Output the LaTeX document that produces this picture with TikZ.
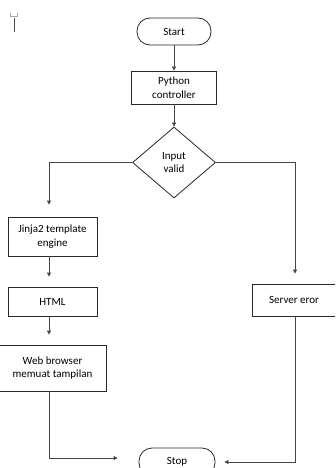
\documentclass[tikz,border=0pt]{standalone}
\usepackage{fontspec}
\setmainfont{Carlito}
\usepackage{tikz}
\usetikzlibrary{shapes.geometric, arrows.meta, positioning, calc}
\usepackage{xcolor}
\definecolor{lineGray}{RGB}{70,70,70}
\definecolor{boxDark}{RGB}{40,40,40}

\begin{document}
\begin{tikzpicture}[x=1pt, y=-1pt,
  box/.style={rectangle, draw=boxDark, line width=0.8pt, inner sep=0pt,
              align=center, minimum width=#1, font=\fontsize{11}{13.5}\selectfont},
  box/.default=89pt,
  term/.style={box=#1, rounded corners=13pt, minimum height=27pt},
  term/.default=74pt,
  decide/.style={diamond, draw=boxDark, line width=0.8pt, inner sep=0pt,
                 align=center, minimum width=83pt, minimum height=71pt,
                 font=\fontsize{11}{13.5}\selectfont},
  arr/.style={-{Triangle[length=4pt, width=4pt]}, line width=0.8pt,
              lineGray, shorten >=#1},
  arr/.default=10pt
]
  \useasboundingbox (0,0) rectangle (335,468);
  \clip (0,0) rectangle (335,468);

  % cursor mark
  \draw[gray!70, line width=0.6pt] (10,13) -- (10,16) -- (17,16) -- (17,13);
  \draw[black!70, line width=0.8pt] (14,18) -- (14,32);

  \node[term]                           (start) at (174,31.5) {Start};
  \node[box=85pt, minimum height=33pt]  (py)    at (174,87.5) {Python\\controller};
  \node[decide]                         (valid) at (174,162.5) {Input\\valid};
  \node[box, minimum height=39pt]       (jinja) at (52.5,236.5) {Jinja2 template\\engine};
  \node[box, minimum height=29pt]       (html)  at (52.5,301.5) {HTML};
  \node[box=107pt, minimum height=46pt] (web)   at (52.5,368) {Web browser\\memuat tampilan};
  \node[box=84pt, minimum height=32pt]  (err)   at (294,300) {Server eror};
  \node[term=76pt, minimum height=28pt] (stop)  at (177,462) {Stop};

  \coordinate (lcol) at (49,0);
  \coordinate (rcol) at (295,0);

  \draw[arr=0pt] (start.south) -- (py.north);
  \draw[arr=0pt] (py.south) -- (valid.north);
  \draw[arr=12pt] (valid.west) -| (jinja.north -| lcol);
  \draw[arr] (valid.east) -| (err.north -| rcol);
  \foreach \a/\b in {jinja/html, html/web}
    \draw[arr] (\a.south -| lcol) -- (\b.north -| lcol);
  \draw[arr=21pt] (web.south -| lcol) |- ([yshift=4pt]stop.west);
  \draw[arr=9pt] (err.south -| rcol) |- (stop.east);
\end{tikzpicture}
\end{document}
